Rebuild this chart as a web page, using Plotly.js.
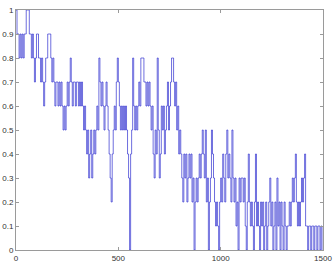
<!DOCTYPE html>
<html>
<head>
<meta charset="utf-8">
<script src="https://cdn.plot.ly/plotly-3.0.1.min.js"></script>
<style>
html,body{margin:0;padding:0;background:#fff;}
#chart{width:335px;height:265px;}
</style>
</head>
<body>
<div id="chart"></div>
<script>
// sample spacing along x (the series is read every 5 units)
const xStart = 0;
const xStep = 5;

const seg1 = [1.0,0.9,0.9,0.8,0.9,0.8,0.9,0.8,0.9,0.9, 1.0,1.0,1.0,0.9,0.9,0.8,0.9,0.8,0.7,0.8,
              0.9,0.9,0.8,0.8,0.7,0.8,0.7,0.6,0.7,0.8, 0.8,0.9,0.9,0.9,0.8,0.7,0.8,0.7,0.6,0.7,
              0.7,0.6,0.7,0.6,0.7,0.6,0.5,0.6,0.5,0.6];
const seg2 = [0.7,0.6,0.7,0.8,0.7,0.6,0.7,0.7,0.6,0.7, 0.7,0.6,0.7,0.6,0.7,0.6,0.5,0.6,0.5,0.4,
              0.5,0.3,0.4,0.5,0.3,0.4,0.5,0.4,0.5,0.6, 0.5,0.8,0.7,0.6,0.7,0.6,0.5,0.6,0.7,0.6,
              0.5,0.4,0.3,0.2,0.4,0.5,0.6,0.5,0.7,0.8];
const seg3 = [0.7,0.6,0.5,0.6,0.5,0.6,0.5,0.6,0.5,0.4, 0.3,0.0,0.4,0.5,0.8,0.6,0.5,0.6,0.5,0.6,
              0.7,0.6,0.8,0.8,0.8,0.7,0.7,0.6,0.7,0.6, 0.7,0.6,0.5,0.6,0.4,0.3,0.5,0.4,0.8,0.5,
              0.3,0.4,0.6,0.5,0.6,0.4,0.5,0.6,0.7,0.5];
const seg4 = [0.6,0.7,0.8,0.8,0.7,0.6,0.7,0.5,0.6,0.4, 0.5,0.4,0.3,0.2,0.4,0.3,0.4,0.2,0.3,0.4,
              0.3,0.4,0.2,0.3,0.0,0.2,0.3,0.2,0.3,0.4, 0.3,0.4,0.5,0.4,0.3,0.5,0.2,0.3,0.0,0.2,
              0.3,0.5,0.4,0.3,0.2,0.1,0.2,0.1,0.0,0.2];
const seg5 = [0.3,0.2,0.4,0.3,0.2,0.4,0.5,0.3,0.4,0.3, 0.2,0.5,0.3,0.2,0.3,0.1,0.2,0.0,0.3,0.2,
              0.3,0.3,0.2,0.3,0.1,0.0,0.2,0.4,0.2,0.1, 0.2,0.1,0.0,0.2,0.4,0.1,0.2,0.1,0.0,0.2,
              0.1,0.2,0.0,0.1,0.2,0.0,0.1,0.2,0.3,0.1];
const seg6 = [0.2,0.0,0.1,0.2,0.0,0.3,0.1,0.2,0.0,0.2, 0.1,0.0,0.2,0.1,0.0,0.1,0.1,0.2,0.1,0.2,
              0.3,0.2,0.3,0.4,0.2,0.1,0.2,0.1,0.2,0.3, 0.2,0.3,0.4,0.1,0.1,0.0,0.1,0.1,0.0,0.1,
              0.1,0.0,0.1,0.1,0.0,0.1,0.1,0.0,0.1,0.0];

const yValues = [].concat(seg1, seg2, seg3, seg4, seg5, seg6);
const xValues = yValues.map((_, i) => xStart + i * xStep);

const xTicks = [0, 500, 1000, 1500];
const yTicks = [0, 0.1, 0.2, 0.3, 0.4, 0.5, 0.6, 0.7, 0.8, 0.9, 1];
const yTickText = ['0','0.1','0.2','0.3','0.4','0.5','0.6','0.7','0.8','0.9','1'];

const axisCommon = {
  showgrid: false, zeroline: false,
  showline: true, mirror: 'ticks', linecolor: '#9a9a9a', linewidth: 1,
  ticks: 'inside', ticklen: 3, tickcolor: '#9a9a9a', tickwidth: 1,
  tickfont: {family: 'Liberation Sans, Arial, sans-serif', size: 8, color: '#333'}
};

Plotly.newPlot('chart', [{
  x: xValues, y: yValues, type: 'scatter', mode: 'lines',
  line: {color: '#2f2fd0', width: 0.7, shape: 'hv'},
  hoverinfo: 'skip'
}], {
  width: 335, height: 265,
  margin: {l: 16, r: 12, t: 10, b: 15},
  paper_bgcolor: '#fff', plot_bgcolor: '#fff',
  showlegend: false,
  xaxis: Object.assign({}, axisCommon, {range: [0, 1500], tickvals: xTicks, ticktext: xTicks.map(String)}),
  yaxis: Object.assign({}, axisCommon, {range: [0, 1], tickvals: yTicks, ticktext: yTickText})
}, {displayModeBar: false, staticPlot: true});
</script>
</body>
</html>
